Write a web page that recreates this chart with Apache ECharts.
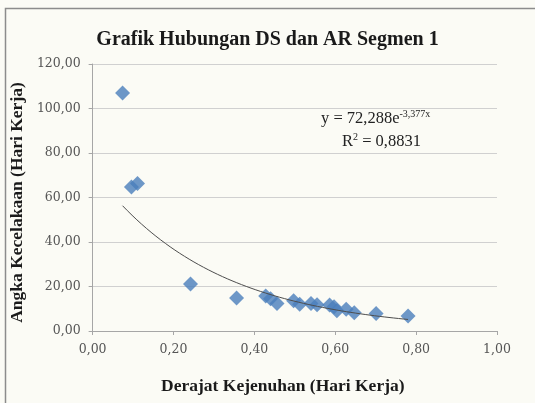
<!DOCTYPE html>
<html><head><meta charset="utf-8">
<script src="https://cdn.jsdelivr.net/npm/echarts@6/dist/echarts.min.js"></script>
<style>html,body{margin:0;padding:0;background:#fbfbf5}#c{width:535px;height:403px}</style>
</head><body><div id="c"></div>
<script>
// Data
var dsValues = [0.074, 0.096, 0.111, 0.242, 0.356, 0.428, 0.44, 0.456, 0.497, 0.512, 0.54, 0.555, 0.586, 0.597, 0.604, 0.627, 0.647, 0.701, 0.78];
var arValues = [107.0, 64.7, 66.3, 21.1, 14.8, 15.7, 14.5, 12.4, 13.6, 12.0, 12.4, 11.8, 11.7, 10.9, 9.1, 9.75, 8.2, 7.9, 6.7];
var trendA = 72.288, trendB = -3.377; // y = a * e^(b x) shown on chart
var trendRange = [0.074, 0.78];
var xTicks = [0, 0.2, 0.4, 0.6, 0.8, 1.0];
var yTicks = [0, 20, 40, 60, 80, 100, 120];

var pts = dsValues.map(function(x, i){ return [x, arValues[i]]; });
var trend = [];
for (var k = 0; k <= 60; k++) {
  var x = trendRange[0] + (trendRange[1] - trendRange[0]) * k / 60;
  trend.push([x, trendA * Math.exp(trendB * x)]);
}
function fmt(v){ return v.toFixed(2).replace('.', ','); }
var serif = '"Liberation Serif", "DejaVu Serif", serif';
var tickFont = '"DejaVu Serif", "Liberation Serif", serif';

var chart = echarts.init(document.getElementById('c'));
chart.setOption({
  backgroundColor: '#fbfbf5',
  animation: false,
  title: {
    text: 'Grafik Hubungan DS dan AR Segmen 1',
    left: 'center', top: 25,
    textStyle: { fontFamily: serif, fontWeight: 'bold', fontSize: 20, color: '#1a1a1a' }
  },
  grid: { left: 92, right: 38, top: 64, bottom: 72 },
  xAxis: {
    type: 'value', min: xTicks[0], max: xTicks[xTicks.length-1], interval: 0.2,
    name: 'Derajat Kejenuhan (Hari Kerja)', nameLocation: 'middle', nameGap: 46,
    nameTextStyle: { fontFamily: serif, fontWeight: 'bold', fontSize: 17.5, color: '#1a1a1a', padding: [0, 24, 0, 0] },
    axisLine: { lineStyle: { color: '#a6a6a6' } },
    axisTick: { show: true, length: 4, lineStyle: { color: '#a6a6a6' } },
    axisLabel: { formatter: fmt, fontFamily: tickFont, fontSize: 12.5, color: '#555555', margin: 12 },
    splitLine: { show: false }
  },
  yAxis: {
    type: 'value', min: yTicks[0], max: yTicks[yTicks.length-1], interval: 20,
    name: 'Angka Kecelakaan (Hari Kerja)', nameLocation: 'middle', nameGap: 61, nameRotate: 90,
    nameTextStyle: { fontFamily: serif, fontWeight: 'bold', fontSize: 17.5, color: '#1a1a1a', padding: [0, 10, 0, 0] },
    axisLine: { show: true, lineStyle: { color: '#a6a6a6' } },
    axisTick: { show: true, length: 4, lineStyle: { color: '#a6a6a6' } },
    axisLabel: { formatter: fmt, fontFamily: tickFont, fontSize: 12.5, color: '#555555', margin: 12 },
    splitLine: { lineStyle: { color: '#d0d0d0' } }
  },
  series: [
    { type: 'line', data: trend, showSymbol: false, smooth: false,
      lineStyle: { color: '#4d4d4d', width: 1 }, z: 3, silent: true },
    { type: 'scatter', data: pts, symbol: 'diamond', symbolSize: 15,
      itemStyle: { color: '#4a7ebb' }, z: 2 }
  ],
  graphic: [
    { type: 'rect', shape: { x: 5.5, y: 8.5, width: 540, height: 400 },
      style: { fill: 'none', stroke: '#8c8c8c', lineWidth: 1.5 }, silent: true },
    { type: 'text', left: 321, top: 109,
      style: { text: '{n|y = 72,288e}{s|-3,377x}', rich: {
        n: { fontFamily: serif, fontSize: 16.5, fill: '#222' },
        s: { fontFamily: serif, fontSize: 10, fill: '#222', padding: [0,0,9,0] } } } },
    { type: 'text', left: 342, top: 132,
      style: { text: '{n|R}{s|2}{n| = 0,8831}', rich: {
        n: { fontFamily: serif, fontSize: 16.5, fill: '#222' },
        s: { fontFamily: serif, fontSize: 10, fill: '#222', padding: [0,0,9,0] } } } }
  ]
});
</script></body></html>
